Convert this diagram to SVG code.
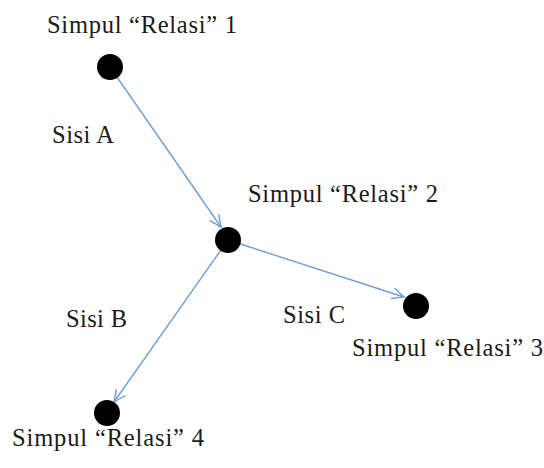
<svg xmlns="http://www.w3.org/2000/svg" width="544" height="468" viewBox="0 0 544 468">
<style>
text{font-family:"Liberation Serif","Times New Roman",serif;font-size:24.5px;fill:#1a1a1a}
.edge{stroke:#6f9fd6;stroke-width:1.4;fill:none}
.node{fill:#000}
</style>
<defs>
<marker id="arr" markerWidth="16" markerHeight="14" refX="13" refY="7" orient="auto" markerUnits="userSpaceOnUse">
<path d="M1,1.5 L13,7 L1,12.5" fill="none" stroke="#6f9fd6" stroke-width="1.4"/>
</marker>
</defs>
<rect width="544" height="468" fill="#fff"/>
<g id="connectors">
<line class="edge" x1="110" y1="67" x2="221" y2="227" marker-end="url(#arr)"/>
<line class="edge" x1="228" y1="240" x2="404" y2="297" marker-end="url(#arr)"/>
<line class="edge" x1="228" y1="240" x2="114" y2="402" marker-end="url(#arr)"/>
</g>
<g id="node1">
<circle class="node" cx="110" cy="67" r="13"/>
<text x="47" y="33" textLength="190" lengthAdjust="spacing">Simpul “Relasi” 1</text>
</g>
<g id="node2">
<circle class="node" cx="228" cy="240" r="13"/>
<text x="248" y="202" textLength="190" lengthAdjust="spacing">Simpul “Relasi” 2</text>
</g>
<g id="node3">
<circle class="node" cx="416" cy="306" r="13"/>
<text x="352" y="356" textLength="191" lengthAdjust="spacing">Simpul “Relasi” 3</text>
</g>
<g id="node4">
<circle class="node" cx="107" cy="413" r="13"/>
<text x="12" y="446" textLength="192" lengthAdjust="spacing">Simpul “Relasi” 4</text>
</g>
<g id="labels">
<text x="52" y="143" textLength="62" lengthAdjust="spacing">Sisi A</text>
<text x="66" y="327" textLength="61" lengthAdjust="spacing">Sisi B</text>
<text x="283" y="323" textLength="62" lengthAdjust="spacing">Sisi C</text>
</g>
</svg>
